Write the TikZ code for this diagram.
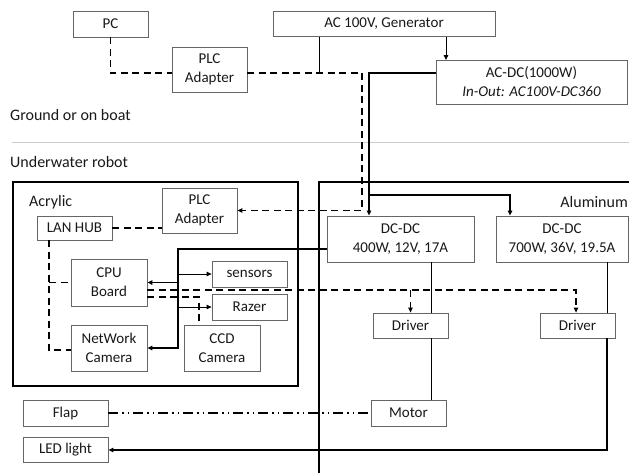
\documentclass[tikz,border=0pt]{standalone}
\usepackage{fontspec}
\setmainfont{Carlito}
\usetikzlibrary{arrows.meta, positioning, calc}
\begin{document}
\begin{tikzpicture}[x=1pt, y=-1pt,
    every node/.style={font=\fontsize{15}{19}\selectfont, align=center, text=black!90},
    box/.style={draw=black!60, line width=0.8pt, fill=white, inner sep=0pt, minimum width=75, minimum height=26},
    tall/.style={box, minimum height=46},
    note/.style={inner sep=0pt, anchor=west, font=\fontsize{16}{19}\selectfont},
    power/.style={line width=1.2pt},
    thin power/.style={line width=0.9pt},
    signal/.style={line width=1.1pt, dash pattern=on 7pt off 4.5pt},
    mech/.style={line width=1.1pt, dash pattern=on 10pt off 4pt on 1.5pt off 4pt on 1.5pt off 4pt},
    >={Triangle[length=5pt, width=4.5pt]}
]
\useasboundingbox (0,0) rectangle (629,472);
\node[box] (pc) at (110.5,24) {PC};
\node[tall, minimum height=45] (plcTop) at (209.5,69.5) {PLC\\Adapter};
\node[box, minimum width=222, minimum height=25] (gen) at (384,24) {AC 100V, Generator};
\node[box, minimum width=191, minimum height=44] (acdc) at (531.5,82) {AC-DC(1000W)\\\textit{In-Out: AC100V-DC360}};
\node[note] (ground) at (10,115) {Ground or on boat};
\draw[black!20, line width=0.8pt] (12,142) -- (629,142);
\node[note] (under) at (10,162) {Underwater robot};

\draw[line width=1.6pt] (13,182) rectangle (298,386);
\draw[line width=1.3pt] (640,182) -| (319,480);
\node[note] (acryl) at (29,202) {Acrylic};
\node[note, anchor=east] (alu) at (628,202) {Aluminum};

\node[tall, minimum height=45] (plcIn) at (199.5,210.5) {PLC\\Adapter};
\node[box, minimum height=24] (hub) at (74.5,228) {LAN HUB};
\node[tall, minimum width=76, minimum height=47] (cpu) at (109,282.5) {CPU\\Board};
\node[tall, minimum width=76] (netcam) at (109,348) {NetWork\\Camera};
\node[box] (sens) at (249.5,274) {sensors};
\node[box] (razer) at (249.5,307) {Razer};
\node[tall, minimum width=76] (ccd) at (222,348) {CCD\\Camera};
\node[tall, minimum width=147] (dcA) at (400.5,239) {DC-DC\\400W, 12V, 17A};
\node[tall, minimum width=132] (dcB) at (562,239) {DC-DC\\700W, 36V, 19.5A};
\node[box, minimum height=25] (drvA) at (410.5,325.5) {Driver};
\node[box, minimum height=25] (drvB) at (577.5,325.5) {Driver};
\node[box] (motor) at (408.5,413) {Motor};
\node[box, minimum width=85] (flap) at (65.5,413) {Flap};
\node[box, minimum width=85, minimum height=25] (led) at (65.5,449.5) {LED light};

\coordinate (plcBus) at (362,73);
\coordinate (genTap) at (319,73);
\coordinate (acIn) at (446,60);
\coordinate (dcBus) at (369,195);
\coordinate (v12) at (178,249);
\coordinate (lanBus) at (49,240);
\coordinate (ctl) at (576,290);
\coordinate (mA) at ([xshift=30.5pt]dcA.south);
\coordinate (mB) at ([xshift=45pt]dcB.south);

\draw[signal] (pc.south) |- ([yshift=-3.5pt]plcTop.west);
\draw[signal, ->] ([yshift=-3.5pt]plcTop.east) -- (plcBus) |- (plcIn.east);
\draw[thin power] (genTap |- gen.south) -- (genTap);
\draw[thin power, ->] (acIn |- gen.south) -- (acIn);
\draw[power, ->] ([yshift=9pt]acdc.west) -| (dcBus) -- (dcBus |- dcA.north);
\draw[power, ->] (dcBus) -| ([xshift=-52pt]dcB.north);

\draw[power, line width=1.5pt, ->] ([yshift=-10pt]dcA.west) -- (v12) |- (netcam.east);
\draw[power, line width=1.5pt, ->] (v12 |- cpu.east) -- (cpu.east);
\draw[thin power, ->] (v12 |- sens.west) -- (sens.west);
\draw[thin power, ->] (v12 |- razer.west) -- (razer.west);

\draw[signal] (hub.east) -- (hub.east -| plcIn.west);
\draw[signal] (lanBus) |- ([yshift=-2pt]netcam.west);
\draw[signal] (lanBus |- cpu.west) -- (cpu.west);
\draw[signal, ->] ([yshift=-7.5pt]cpu.east) -- (ctl) -- (ctl |- drvB.north);
\draw[signal, ->] (drvA.north |- ctl) -- (drvA.north);
\draw[signal] ([yshift=-14.5pt]cpu.east) -| ([xshift=-23pt]ccd.north);

\draw[thin power] (mA) -- (mA |- drvA.north);
\draw[thin power] (mA |- drvA.south) -- (mA |- motor.north);
\draw[thin power] (mB) -- (mB |- drvB.north);
\draw[power, ->] (mB |- drvB.south) |- ([yshift=-0.5pt]led.east);
\draw[mech] (flap.east) -- (motor.west);
\end{tikzpicture}
\end{document}
